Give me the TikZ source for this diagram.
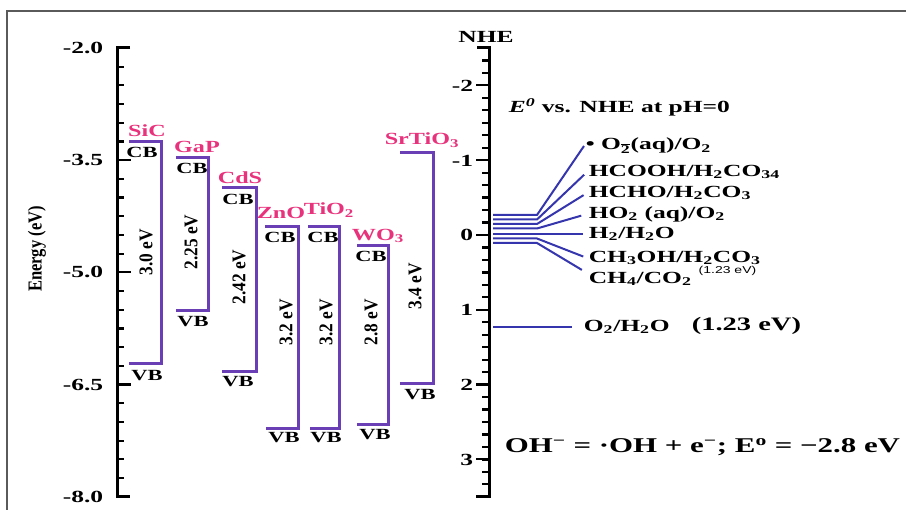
\documentclass[tikz,border=0pt]{standalone}
\usepackage{fontspec}
\setmainfont{Liberation Serif}
\newfontfamily\notesans{Liberation Sans}
\usetikzlibrary{positioning}
\definecolor{bandviolet}{HTML}{6A3EB4}
\definecolor{redoxblue}{HTML}{3535AE}
\definecolor{semipink}{HTML}{E8327C}
\definecolor{framegray}{HTML}{5A5A5A}
\tikzset{
  axisline/.style={draw=black,line width=3pt},
  tickline/.style={draw=black,line width=2.2pt},
  ticklbl/.style={font=\bfseries\fontsize{17}{19}\selectfont,xscale=1.5,inner sep=1pt},
  ylbl/.style={font=\bfseries\fontsize{16.5}{18}\selectfont,xscale=1.2,rotate=90,inner sep=1pt},
  band/.style={draw=bandviolet,line width=3pt},
  semi/.style={font=\bfseries\fontsize{17}{19}\selectfont,text=semipink,xscale=1.42,inner sep=1pt},
  edge/.style={font=\bfseries\fontsize{15.5}{17}\selectfont,xscale=1.45,inner sep=1pt},
  gap/.style={font=\bfseries\fontsize{15.5}{17}\selectfont,xscale=1.25,rotate=90,xscale=1.12,inner sep=1pt},
  couple/.style={font=\bfseries\fontsize{17}{19}\selectfont,xscale=1.5,inner sep=1pt,anchor=west},
  redox/.style={draw=redoxblue,line width=2pt},
  note/.style={font=\notesans\fontsize{10}{11}\selectfont,xscale=1.4,inner sep=1pt,anchor=west},
  bigline/.style={font=\bfseries\fontsize{21}{23}\selectfont,xscale=1.47,inner sep=1pt,anchor=west}
}
\begin{document}
\begin{tikzpicture}[x=1pt,y=-1pt]
\path[use as bounding box] (0,0) rectangle (906,510);
\draw[framegray,line width=1.8pt] (7,510) -- (7,11) -- (906,11);
% vacuum scale
\draw[axisline] (130,48) -- (117,48) -- (117,497) -- (130,497);
\foreach \i in {1,...,23} \draw[tickline] (117,{48+18.7*\i}) -- (124,{48+18.7*\i});
\foreach \i in {1,2,3} \draw[tickline] (117,{48+112.2*\i}) -- (131,{48+112.2*\i});
\node[ticklbl,anchor=east] (ev20) at (105,48) {-2.0}; \node[ticklbl,anchor=east] (ev35) at (105,160) {-3.5}; \node[ticklbl,anchor=east] (ev50) at (105,272) {-5.0};
\node[ticklbl,anchor=east] (ev65) at (105,385) {-6.5}; \node[ticklbl,anchor=east] (ev80) at (105,497) {-8.0};
\node[ylbl] (energy) at (37,249) {Energy (eV)};
% band edges
\draw[band] (129,142) -- (161,142) -- (161,364) -- (129,364);
\draw[band] (176,158) -- (208,158) -- (208,311) -- (176,311);
\draw[band] (222,188) -- (256,188) -- (256,372) -- (222,372);
\draw[band] (265,227) -- (298,227) -- (298,429) -- (266,429);
\draw[band] (308,227) -- (339,227) -- (339,429) -- (310,429);
\draw[band] (357,246) -- (388,246) -- (388,425) -- (357,425);
\draw[band] (400,153) -- (433,153) -- (433,384) -- (400,384);
\node[semi] (sic) at (147,131) {SiC}; \node[semi] (gap) at (197,147) {GaP}; \node[semi] (cds) at (240,178) {CdS}; \node[semi] (zno) at (281,213) {ZnO};
\node[semi] (tio) at (329,210) {TiO\textsubscript{2}}; \node[semi] (wo) at (378,236) {WO\textsubscript{3}}; \node[semi] (sto) at (422,140) {SrTiO\textsubscript{3}};
\node[edge] (sicCB) at (142,152) {CB}; \node[edge] (gapCB) at (192,168) {CB}; \node[edge] (cdsCB) at (238,199) {CB}; \node[edge] (znoCB) at (280,237) {CB}; \node[edge] (tioCB) at (323,237) {CB}; \node[edge] (woCB) at (371,256) {CB};
\node[edge] (sicVB) at (147,376) {VB}; \node[edge] (gapVB) at (193,322) {VB}; \node[edge] (cdsVB) at (238,382) {VB}; \node[edge] (znoVB) at (284,438) {VB}; \node[edge] (tioVB) at (326,438) {VB}; \node[edge] (woVB) at (375,435) {VB}; \node[edge] (stoVB) at (420,395) {VB};
\node[gap] (sicGap) at (146,252) {3.0 eV}; \node[gap] (gapGap) at (191,242) {2.25 eV}; \node[gap] (cdsGap) at (239,277) {2.42 eV}; \node[gap] (znoGap) at (286,322) {3.2 eV};
\node[gap] (tioGap) at (326,322) {3.2 eV}; \node[gap] (woGap) at (371,322) {2.8 eV}; \node[gap] (stoGap) at (415,286) {3.4 eV};
% NHE scale
\draw[axisline] (477,48) -- (489,48) -- (489,497) -- (476,497);
\foreach \k in {-14,...,20} \draw[tickline] (489,{235+12.47*\k}) -- (482,{235+12.47*\k});
\foreach \k in {-2,...,3} \draw[tickline] (489,{235+74.8*\k}) -- (476,{235+74.8*\k});
\node[ticklbl] (nhe) at (486,37) {NHE};
\node[ticklbl,anchor=east] (nm2) at (475,86) {-2}; \node[ticklbl,anchor=east] (nm1) at (475,161) {-1}; \node[ticklbl,anchor=east] (n0) at (475,235) {0};
\node[ticklbl,anchor=east] (n1) at (475,310) {1}; \node[ticklbl,anchor=east] (n2) at (475,385) {2}; \node[ticklbl,anchor=east] (n3) at (475,460) {3};
% redox couples
\node[couple] (eref) at (507,107) {{\itshape E\textsuperscript{0}} vs. NHE at pH=0};
\node[couple] (o2aq) at (584,146) {• O\textsubscript{$\overline{\hbox{2}}$}(aq)/O\textsubscript{2}};
\node[couple] (hcooh) at (587,172) {HCOOH/H\textsubscript{2}CO\textsubscript{34}};
\node[couple] (hcho) at (587,193) {HCHO/H\textsubscript{2}CO\textsubscript{3}};
\node[couple] (ho2) at (587,214) {HO\textsubscript{2} (aq)/O\textsubscript{2}};
\node[couple] (h2) at (587,234) {H\textsubscript{2}/H\textsubscript{2}O};
\node[couple] (ch3oh) at (587,258) {CH\textsubscript{3}OH/H\textsubscript{2}CO\textsubscript{3}};
\node[couple] (ch4) at (587,279) {CH\textsubscript{4}/CO\textsubscript{2}};
\node[note] (ch4note) at (697,271) {(1.23 eV)};
\node[couple] (o2h2o) at (582,327) {O\textsubscript{2}/H\textsubscript{2}O};
\node[couple,font=\bfseries\fontsize{19}{21}\selectfont] (o2gap) at (690,326) {(1.23 eV)};
\node[bigline] (ohrad) at (503,447) {OH\textsuperscript{−} = ·OH + e\textsuperscript{−}; E\textsuperscript{o} = −2.8 eV};
\coordinate (r1) at (493,215); \coordinate (r2) at (493,219.5); \coordinate (r3) at (493,224); \coordinate (r4) at (493,228.5);
\coordinate (r5) at (493,234); \coordinate (r6) at (493,238.5); \coordinate (r7) at (493,243); \coordinate (r8) at (493,327);
\draw[redox] (r1) -- ++(44,0) -- (o2aq.west); \draw[redox,shorten >=4pt] (r2) -- ++(44,0) -- (hcooh.west);
\draw[redox,shorten >=4pt] (r3) -- ++(44,0) -- (hcho.west); \draw[redox,shorten >=6pt] (r4) -- ++(44,0) -- (ho2.west);
\draw[redox,shorten >=4pt] (r5) -- (h2.west); \draw[redox,shorten >=4pt] (r6) -- ++(44,0) -- (ch3oh.west);
\draw[redox,shorten >=6pt] (r7) -- ++(44,0) -- ([yshift=6pt]ch4.west);
\draw[redox,line width=1.5pt,shorten >=10pt] (r8) -- (o2h2o.west);
\end{tikzpicture}
\end{document}
